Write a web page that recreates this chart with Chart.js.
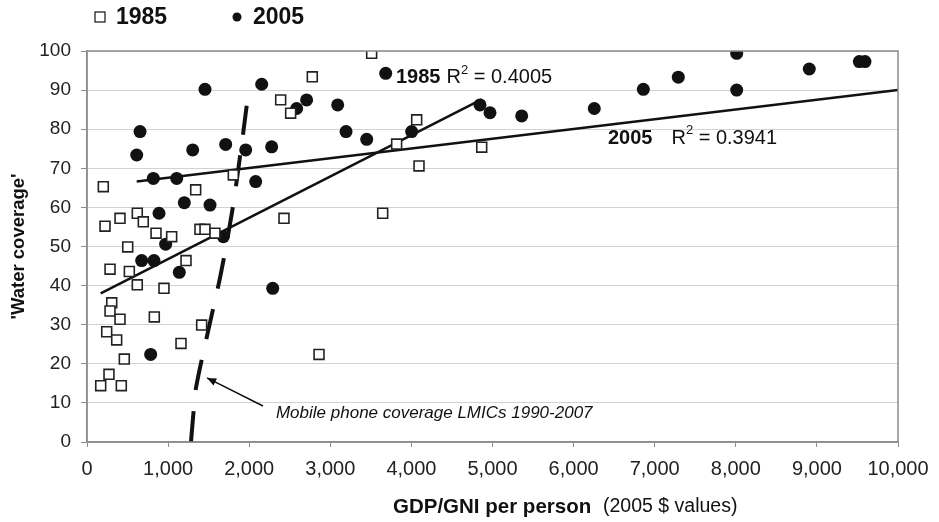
<!DOCTYPE html>
<html>
<head>
<meta charset="utf-8">
<script src="https://cdn.jsdelivr.net/npm/chart.js@4.4.0/dist/chart.umd.min.js"></script>
<style>
  html, body { margin: 0; padding: 0; background: #fff; }
  #wrap { width: 939px; height: 522px; }
</style>
</head>
<body>
<div id="wrap"><canvas id="grafico" width="939" height="522"></canvas></div>
<script>
// dados
const gdp1985 = [201, 1340, 1804, 222, 407, 620, 694, 851, 1044, 1393, 1455, 1578, 502, 1221, 284, 522, 620, 949,
                 305, 284, 407, 830, 1414, 243, 366, 1159, 460, 271, 169, 423, 3510, 2778, 2388, 2511, 4065, 3818,
                 4094, 4867, 2429, 3646, 2861];
const water1985 = [65.3, 64.5, 68.3, 55.2, 57.2, 58.5, 56.3, 53.4, 52.5, 54.4, 54.4, 53.4, 49.9, 46.4, 44.2, 43.6, 40.2, 39.3,
                   35.6, 33.5, 31.4, 32.0, 29.9, 28.2, 26.1, 25.2, 21.2, 17.3, 14.4, 14.4, 99.4, 93.4, 87.5, 84.1, 82.4, 76.2,
                   70.6, 75.4, 57.2, 58.5, 22.4];

const gdp2005 = [1455, 2154, 654, 613, 1303, 1710, 1957, 2277, 818, 1106, 2080, 1200, 1517, 888, 1681, 970, 674, 826,
                 1138, 2290, 785, 3683, 2585, 2708, 3091, 3194, 3449, 4003, 4846, 4969, 5360, 6255, 6860, 7291, 8011,
                 8011, 8906, 9523, 9593];
const water2005 = [90.2, 91.5, 79.4, 73.4, 74.7, 76.1, 74.7, 75.5, 67.4, 67.4, 66.6, 61.2, 60.6, 58.5, 52.5, 50.6, 46.4, 46.4,
                   43.4, 39.3, 22.4, 94.3, 85.3, 87.5, 86.2, 79.4, 77.4, 79.4, 86.2, 84.2, 83.4, 85.3, 90.2, 93.3, 99.4,
                   90.0, 95.4, 97.3, 97.3];

// linhas de tendência (pontas)
const trend1985X = [169, 4867];
const trend1985Y = [38.0, 87.6];
const trend2005X = [613, 10000];
const trend2005Y = [66.6, 90.0];

// curva da cobertura de celular
const mobileX = [1282, 1315, 1345, 1500, 1650, 1790, 1900, 1969];
const mobileY = [0, 8, 14, 29, 43, 59, 75, 86];

const xTicks = [0, 1000, 2000, 3000, 4000, 5000, 6000, 7000, 8000, 9000, 10000];
const yTicks = [0, 10, 20, 30, 40, 50, 60, 70, 80, 90, 100];

const FONTE = "'Liberation Sans', Arial, sans-serif";

function pares(xs, ys) {
    return xs.map((x, i) => ({ x: x, y: ys[i] }));
}

// escreve texto com R² (sobrescrito)
function textoR2(ctx, x, y, ano, valor, tam, gap) {
    ctx.textBaseline = 'middle';
    ctx.textAlign = 'left';
    ctx.font = 'bold ' + tam + 'px ' + FONTE;
    ctx.fillText(ano, x, y);
    x += ctx.measureText(ano).width + gap;
    ctx.font = tam + 'px ' + FONTE;
    ctx.fillText('R', x, y);
    x += ctx.measureText('R').width;
    ctx.font = Math.round(tam * 0.65) + 'px ' + FONTE;
    ctx.fillText('2', x, y - tam * 0.38);
    x += ctx.measureText('2').width;
    ctx.font = tam + 'px ' + FONTE;
    ctx.fillText(' = ' + valor, x, y);
}

const extras = {
    id: 'extras',
    afterDatasetsDraw(chart) {
        const ctx = chart.ctx;
        const a = chart.chartArea;
        const sx = chart.scales.x, sy = chart.scales.y;
        ctx.save();
        // moldura
        ctx.strokeStyle = '#8c8c8c';
        ctx.lineWidth = 1.5;
        ctx.strokeRect(a.left, a.top, a.right - a.left, a.bottom - a.top);

        ctx.fillStyle = '#111';
        textoR2(ctx, sx.getPixelForValue(3810), sy.getPixelForValue(93.1), '1985', '0.4005', 20, 6);
        textoR2(ctx, sx.getPixelForValue(6424), sy.getPixelForValue(77.7), '2005', '0.3941', 20, 19);

        // seta + texto do celular
        const x0 = sx.getPixelForValue(2170), y0 = sy.getPixelForValue(9.2);
        const x1 = sx.getPixelForValue(1480), y1 = sy.getPixelForValue(16.4);
        ctx.strokeStyle = '#111';
        ctx.lineWidth = 1.5;
        ctx.beginPath();
        ctx.moveTo(x0, y0);
        ctx.lineTo(x1, y1);
        ctx.stroke();
        const ang = Math.atan2(y1 - y0, x1 - x0);
        ctx.beginPath();
        ctx.moveTo(x1, y1);
        ctx.lineTo(x1 - 10 * Math.cos(ang - 0.4), y1 - 10 * Math.sin(ang - 0.4));
        ctx.lineTo(x1 - 10 * Math.cos(ang + 0.4), y1 - 10 * Math.sin(ang + 0.4));
        ctx.closePath();
        ctx.fill();
        ctx.font = 'italic 17px ' + FONTE;
        ctx.textBaseline = 'middle';
        ctx.fillText('Mobile phone coverage LMICs 1990-2007', sx.getPixelForValue(2330), sy.getPixelForValue(7.4));

        // legenda
        ctx.lineWidth = 1.3;
        ctx.strokeStyle = '#222';
        ctx.fillStyle = '#fff';
        ctx.fillRect(95, 12, 10, 10);
        ctx.strokeRect(95, 12, 10, 10);
        ctx.fillStyle = '#111';
        ctx.beginPath();
        ctx.arc(237, 17, 4.5, 0, Math.PI * 2);
        ctx.fill();
        ctx.font = 'bold 23px ' + FONTE;
        ctx.fillText('1985', 116, 18);
        ctx.fillText('2005', 253, 18);

        // título do eixo x
        ctx.font = 'bold 20.5px ' + FONTE;
        const t1 = 'GDP/GNI per person';
        ctx.fillText(t1, 393, 507);
        ctx.font = '19.5px ' + FONTE;
        ctx.fillText('(2005 $ values)', 603, 507);
        ctx.restore();
    }
};

const ctx = document.getElementById('grafico').getContext('2d');
new Chart(ctx, {
    type: 'scatter',
    data: {
        datasets: [
            {
                label: '1985',
                data: pares(gdp1985, water1985),
                pointStyle: 'rect',
                pointRadius: 7,
                backgroundColor: '#fff',
                borderColor: '#222',
                borderWidth: 1.6
            },
            {
                label: '2005',
                data: pares(gdp2005, water2005),
                pointStyle: 'circle',
                pointRadius: 6.5,
                backgroundColor: '#111',
                borderColor: '#111',
                borderWidth: 0
            },
            {
                label: 'trend 1985',
                data: pares(trend1985X, trend1985Y),
                showLine: true,
                pointRadius: 0,
                borderColor: '#111',
                borderWidth: 2.5
            },
            {
                label: 'trend 2005',
                data: pares(trend2005X, trend2005Y),
                showLine: true,
                pointRadius: 0,
                borderColor: '#111',
                borderWidth: 2.5
            },
            {
                label: 'mobile',
                data: pares(mobileX, mobileY),
                showLine: true,
                pointRadius: 0,
                borderColor: '#111',
                borderWidth: 4,
                borderDash: [31, 21],
                tension: 0.3
            }
        ]
    },
    options: {
        responsive: false,
        animation: false,
        layout: { padding: { top: 51, right: 41, left: 0, bottom: 0 } },
        plugins: { legend: { display: false }, tooltip: { enabled: false } },
        scales: {
            x: {
                type: 'linear',
                min: 0,
                max: 10000,
                afterBuildTicks: axis => { axis.ticks = xTicks.map(v => ({ value: v })); },
                afterFit: axis => { axis.height = 80; },
                ticks: {
                    color: '#222',
                    font: { family: FONTE, size: 20 },
                    padding: 10,
                    maxRotation: 0,
                    callback: v => v.toLocaleString('en-US')
                },
                grid: { drawOnChartArea: false, drawTicks: true, tickLength: 5, color: '#8c8c8c' },
                border: { color: '#8c8c8c', width: 1.5 }
            },
            y: {
                type: 'linear',
                min: 0,
                max: 100,
                afterBuildTicks: axis => { axis.ticks = yTicks.map(v => ({ value: v })); },
                afterFit: axis => { axis.width = 87; },
                ticks: {
                    color: '#222',
                    font: { family: FONTE, size: 19 },
                    padding: 10
                },
                grid: { color: '#d2d2d2', lineWidth: 1, tickLength: 6, tickColor: '#8c8c8c' },
                border: { color: '#8c8c8c', width: 1.5 },
                title: {
                    display: true,
                    text: "'Water coverage'",
                    color: '#111',
                    font: { family: FONTE, size: 18.5, weight: 'bold' },
                    padding: { top: 8, bottom: 0 }
                }
            }
        }
    },
    plugins: [extras]
});
</script>
</body>
</html>
